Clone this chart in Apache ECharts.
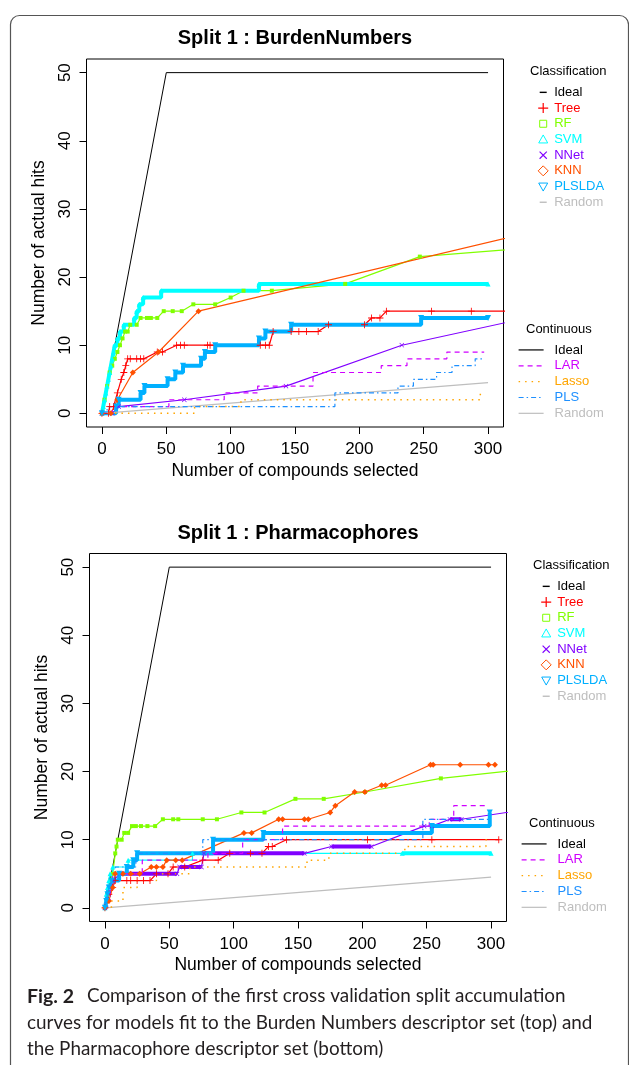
<!DOCTYPE html>
<html>
<head>
<meta charset="utf-8">
<script src="https://cdn.jsdelivr.net/npm/echarts@6/dist/echarts.min.js"></script>
<style>
html,body{margin:0;padding:0;background:#fff;}
#chart{width:629px;height:1065px;}
</style>
</head>
<body>
<div id="chart"></div>
<script>
// ---- axis ticks ----
const xTicks = [0, 50, 100, 150, 200, 250, 300];
const yTicks = [0, 10, 20, 30, 40, 50];

// ---- Split 1 : BurdenNumbers  ([compounds selected, actual hits]) ----
const burdenIdeal  = [[0,0],[50,50],[300,50]];
const burdenRandom = [[0,0],[300,4.5]];
const burdenTree   = [[0,0],[5,0],[6,1],[9,1],[12,3],[15,5],[17,6],[18.5,7],[20,8],[22,8],[27,8],[30,8],[32.5,8],[43,9],[47,9],[58,10],[61,10],[64,10],[82,10],[84,10],[123,10],[127,10],[130,10],[133,12],[147,12],[153,12],[159,12],[168,12],[176,13],[204,13],[209.5,14],[216,14],[221,15],[256,15],[287,15],[340,15]];
const burdenRF     = [[0,0],[2,2],[4,4],[6,6],[8,7],[10,8],[12,9],[14,10],[16,11],[18,12],[20,12],[22,13],[27,13],[30,14],[35,14],[38,14],[43,14],[48,15],[55,15],[62,15],[71,16],[88,16],[100,17],[110,18],[132,18],[189,19],[247,23],[340,24.4]];
const burdenSVM    = [[0,0],[1,1],[2,2],[3,3],[4,4],[5,5],[6,6],[7,7],[8,8],[9,9],[10,10],[12,11],[14,12],[17,13],[25,14],[27,15],[29,16],[32,17],[46,18],[122,19],[300,19]];
const burdenNNet   = [[0,0],[8,0],[13,1],[64,2],[143,4],[233,10],[340,14.4]];
const burdenKNN    = [[0,0],[7,0],[12,2],[24,6],[44,9],[75,15],[340,26.9]];
const burdenPLSLDA = [[0,0],[11,1],[13,2],[30,3],[33,4],[51,5],[57,6],[63,7],[77,8],[80,9],[88,10],[122,11],[127,12],[147,13],[248,14],[300,14]];
const burdenLAR    = [[0,0],[8,1],[52,2],[95,3],[121,4],[164,6],[217,7],[237,8],[268,9],[297,9]];
const burdenLasso  = [[0,0],[72,1],[108,2],[294,3],[297,3]];
const burdenPLS    = [[0,0],[4,1],[181,3],[230,4],[242,5],[260,6],[272,7],[290,8],[297,8]];
// stretches where a curve's points sit at every compound (drawn as a solid band)
const burdenSVMDense    = [[0, 300]];
const burdenPLSLDADense = [[0, 300]];

// ---- Split 1 : Pharmacophores ----
const pharmIdeal  = [[0,0],[50,50],[300,50]];
const pharmRandom = [[0,0],[300,4.5]];
const pharmTree   = [[0,0],[3,2],[6,3],[8,4],[17,4],[20,4],[25,4],[30,4],[35,4],[40,5],[49,5],[53,6],[62,6],[76,7],[88,7],[97,8],[113,8],[122,8],[127,9],[130,9],[141,10],[204,10],[254,10],[306,10]];
const pharmRF     = [[0,0],[2,2],[4,4],[6,5],[8,8],[9,9],[10,10],[13,10],[15,11],[18,11],[21,12],[24,12],[28,12],[33,12],[39,12],[45,13],[53,13],[57,13],[76,13],[87,13],[106,14],[124,14],[148,16],[170,16],[202,17],[261,19],[340,20.6]];
const pharmSVM    = [[0,0],[1,2],[2,3],[3,4],[4,5],[6,6],[18,7],[68,8],[231,8],[300,8]];
const pharmNNet   = [[0,0],[2,1],[3,2],[4,3],[6,4],[12,5],[56,5],[58,6],[75,6],[77,8],[155,8],[176,9],[207,9],[248,12],[254,12],[268,13],[277,13],[340,14.8]];
const pharmKNN    = [[0,0],[3,1],[6,3],[8,5],[14,5],[20,5],[27,5],[36,6],[40,6],[45,6],[48,7],[55,7],[60,7],[108,11],[114,11],[135,13],[138,13],[155,13],[158,13],[175,14],[179,15],[194,17],[202,17],[215,18],[218,18],[253,21],[255,21],[276,21],[298,21],[303,21]];
const pharmPLSLDA = [[0,0],[1,1],[2,2],[3,3],[5,4],[11,5],[17,6],[22,7],[25,8],[84,10],[123,11],[254,12],[299,14]];
const pharmLAR    = [[0,0],[2,1],[4,3],[6,5],[29,7],[80,8],[107,10],[138,12],[252,13],[271,15],[298,15]];
const pharmLasso  = [[0,0],[5,1],[14,3],[25,4],[40,5],[66,6],[157,7],[174,8],[233,9],[296,10],[298,10]];
const pharmPLS    = [[0,0],[2,2],[4,4],[8,6],[24,8],[76,10],[247,13],[298,13]];
const pharmSVMDense    = [[231, 300]];
const pharmPLSLDADense = [[0, 299]];
const pharmNNetDense   = [[12, 56], [58, 75], [77, 155], [176, 207], [268, 277]];

const FONT = "'Liberation Sans', Arial, Helvetica, sans-serif";

const C = {
  Ideal: '#000000', Tree: '#FF0000', RF: '#80FF00', SVM: '#00FFFF', NNet: '#8000FF',
  KNN: '#FF5000', PLSLDA: '#00B0FF', Random: '#BEBEBE', LAR: '#D000FF', Lasso: '#FFA500', PLS: '#1E90FF'
};

// marker / legend glyphs
const P_PLUS  = 'path://M4.4,0H5.6V10H4.4Z M0,4.4H10V5.6H0Z';
const P_CROSS = 'path://M0,0M10,10M1,1.8L1.8,1L9,8.2L8.2,9Z M8.2,1L9,1.8L1.8,9L1,8.2Z';
const P_DASH  = 'path://M0,0M10,10M1.5,4.3H8.5V5.7H1.5Z';
const P_SQ    = 'path://M0,0M10,10M1.5,1.5H8.5V8.5H1.5Z';
const P_TRI   = 'path://M0,0M10,10M5,0.5L9.5,8.5H0.5Z';
const P_DIA   = 'path://M5,0L10,5L5,10L0,5Z';
const P_DTRI  = 'path://M0,0M10,10M0.5,1.5H9.5L5,9.5Z';
const P_DTRI_F = 'path://M0,0H10L5,9Z';

function curve(name, g, data, opt) {
  return {
    name, type: 'line', xAxisIndex: g, yAxisIndex: g, data,
    silent: true, animation: false, showAllSymbol: true, clip: true,
    symbol: opt.symbol || 'none', symbolSize: opt.size || 6,
    step: opt.step || false,
    lineStyle: { color: C[name], width: opt.width || 1.2, type: opt.dash || 'solid' },
    itemStyle: { color: C[name] },
    emphasis: { disabled: true },
    z: 2
  };
}

// the packed stretches of a curve, drawn as a thick band over its thin line
function bands(name, g, data, ranges, step) {
  return (ranges || []).map(([a, b]) => curve(name, g,
    data.filter(p => p[0] >= a && p[0] <= b), { width: 4, step }));
}

function chartSeries(g, d) {
  return [
    curve('Ideal', g, d.ideal, { width: 1 }),
    curve('Tree', g, d.tree, { symbol: P_PLUS, size: 7 }),
    curve('RF', g, d.rf, { symbol: 'rect', size: 4 }),
    curve('SVM', g, d.svm, { symbol: 'triangle', size: 5, step: 'end' }),
    ...bands('SVM', g, d.svm, d.svmDense, 'end'),
    curve('NNet', g, d.nnet, { symbol: P_CROSS, size: 6 }),
    ...bands('NNet', g, d.nnet, d.nnetDense, false),
    curve('KNN', g, d.knn, { symbol: 'diamond', size: 6 }),
    curve('PLSLDA', g, d.plslda, { symbol: P_DTRI_F, size: 6, step: 'end' }),
    ...bands('PLSLDA', g, d.plslda, d.plsldaDense, 'end'),
    curve('Random', g, d.random, { width: 1.2 }),
    curve('LAR', g, d.lar, { dash: [5, 4], step: 'end' }),
    curve('Lasso', g, d.lasso, { dash: [1.5, 5], width: 1.5, step: 'end' }),
    curve('PLS', g, d.pls, { dash: [5, 3, 1.5, 3], step: 'end' })
  ];
}

function grid(left, top) {
  return { left, top, width: 417, height: 368, show: true, borderColor: '#000', borderWidth: 1, backgroundColor: 'transparent' };
}

function xAxis(g) {
  return {
    gridIndex: g, type: 'value', min: -12, max: 312,
    axisLine: { show: false, onZero: false }, splitLine: { show: false },
    axisTick: { show: true, customValues: xTicks, length: 7, lineStyle: { color: '#000', width: 1 } },
    axisLabel: { customValues: xTicks, fontSize: 17, color: '#000', fontFamily: FONT, margin: 14 },
    name: 'Number of compounds selected', nameLocation: 'middle', nameGap: 35,
    nameTextStyle: { fontSize: 17.5, color: '#000', fontFamily: FONT }
  };
}

function yAxis(g) {
  return {
    gridIndex: g, type: 'value', min: -2, max: 52,
    axisLine: { show: false, onZero: false }, splitLine: { show: false },
    axisTick: { show: true, customValues: yTicks, length: 7, lineStyle: { color: '#000', width: 1 } },
    axisLabel: { customValues: yTicks, rotate: 90, fontSize: 17, color: '#000', fontFamily: FONT, margin: 13 },
    name: 'Number of actual hits', nameLocation: 'middle', nameGap: 33, nameRotate: 90,
    nameTextStyle: { fontSize: 17.5, color: '#000', fontFamily: FONT }
  };
}

const CLS_ITEMS = [
  ['Ideal', P_DASH, true], ['Tree', P_PLUS, true], ['RF', P_SQ, false], ['SVM', P_TRI, false],
  ['NNet', P_CROSS, true], ['KNN', P_DIA, false], ['PLSLDA', P_DTRI, false], ['Random', P_DASH, true]
];
const CONT_ITEMS = ['Ideal', 'LAR', 'Lasso', 'PLS', 'Random'];

function clsLegend(left, top) {
  return {
    orient: 'vertical', left, top, padding: 0, itemGap: 0, itemWidth: 10, itemHeight: 10,
    selectedMode: false, symbolKeepAspect: true,
    textStyle: { fontSize: 13, fontFamily: FONT, lineHeight: 15.7, padding: [0, 0, 0, 1] },
    data: CLS_ITEMS.map(([n, icon, filled]) => ({
      name: n, icon,
      itemStyle: filled ? { color: C[n], borderWidth: 0 } : { color: 'none', borderColor: C[n], borderWidth: 1 },
      textStyle: { color: C[n] }
    }))
  };
}

function contLegend(left, top) {
  return {
    orient: 'vertical', left, top, padding: 0, itemGap: 0, itemWidth: 25, itemHeight: 10,
    selectedMode: false,
    textStyle: { fontSize: 13, fontFamily: FONT, lineHeight: 15.85, padding: [0, 0, 0, 6] },
    lineStyle: { width: 1.2 },
    data: CONT_ITEMS.map(n => ({
      name: n, itemStyle: { opacity: 0 }, textStyle: { color: C[n] }
    }))
  };
}

function label(text, x, y, size, weight, align) {
  return {
    type: 'text', x, y, silent: true,
    style: { text, fontSize: size, fontWeight: weight || 'normal', fontFamily: FONT, fill: '#000',
             align: align || 'center', verticalAlign: 'middle' }
  };
}

const burden = { ideal: burdenIdeal, tree: burdenTree, rf: burdenRF, svm: burdenSVM, nnet: burdenNNet, knn: burdenKNN,
  plslda: burdenPLSLDA, random: burdenRandom, lar: burdenLAR, lasso: burdenLasso, pls: burdenPLS,
  svmDense: burdenSVMDense, plsldaDense: burdenPLSLDADense };
const pharm = { ideal: pharmIdeal, tree: pharmTree, rf: pharmRF, svm: pharmSVM, nnet: pharmNNet, knn: pharmKNN,
  plslda: pharmPLSLDA, random: pharmRandom, lar: pharmLAR, lasso: pharmLasso, pls: pharmPLS,
  svmDense: pharmSVMDense, plsldaDense: pharmPLSLDADense, nnetDense: pharmNNetDense };

const CAP_FONT = 'Lato, sans-serif';

const chart = echarts.init(document.getElementById('chart'), null, { renderer: 'canvas' });
chart.setOption({
  animation: false,
  backgroundColor: '#fff',
  grid: [grid(86.5, 59), grid(89.5, 553.5)],
  xAxis: [xAxis(0), xAxis(1)],
  yAxis: [yAxis(0), yAxis(1)],
  legend: [clsLegend(535.7, 84.5), contLegend(518, 342), clsLegend(538.7, 578.5), contLegend(521, 836)],
  series: chartSeries(0, burden).concat(chartSeries(1, pharm)),
  graphic: [
    { type: 'rect', silent: true, z: -10,
      shape: { x: 10.5, y: 15.5, width: 618, height: 1100, r: 9 },
      style: { fill: 'none', stroke: '#555', lineWidth: 1.2 } },
    label('Split 1 : BurdenNumbers', 295, 38.5, 20, 'bold'),
    label('Split 1 : Pharmacophores', 298, 533, 20, 'bold'),
    label('Classification', 530, 71.5, 13, 'normal', 'left'),
    label('Continuous', 526, 329, 13, 'normal', 'left'),
    label('Classification', 533, 565.5, 13, 'normal', 'left'),
    label('Continuous', 529, 823, 13, 'normal', 'left'),
    { type: 'text', x: 27, y: 983, silent: true,
      style: {
        text: '{b|Fig. 2}Comparison of the first cross validation split accumulation\ncurves for models fit to the Burden Numbers descriptor set (top) and\nthe Pharmacophore descriptor set (bottom)',
        fontSize: 18.9, fontFamily: CAP_FONT, fill: '#231f20', lineHeight: 26.5,
        align: 'left', verticalAlign: 'top',
        rich: { b: { fontSize: 19.5, fontWeight: 'bold', fontFamily: CAP_FONT, fill: '#231f20', lineHeight: 26.5, padding: [0, 13, 0, 0] } }
      } }
  ]
});
</script>
</body>
</html>
